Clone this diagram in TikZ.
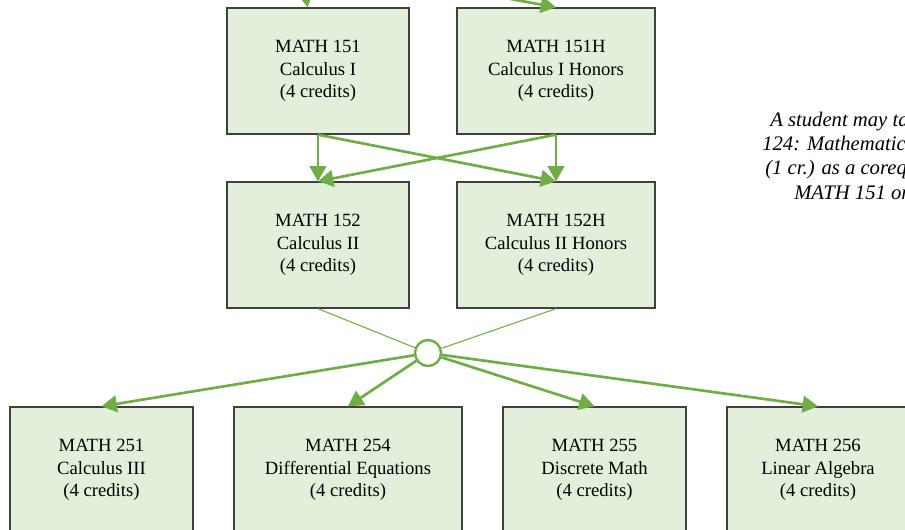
\documentclass[tikz,border=0pt]{standalone}
\usepackage{fontspec}
\setmainfont{Liberation Serif}
\usepackage{xcolor}
\usetikzlibrary{arrows.meta}

\definecolor{lgreen}{HTML}{E2EFDA}
\definecolor{dgreen}{HTML}{70AD47}
\definecolor{edge}{HTML}{404040}

\tikzset{
	course/.style={draw=edge, line width=1pt, fill=lgreen, align=center,
		font=\fontsize{14}{17}\selectfont, minimum height=94.5pt, inner sep=0pt,
		execute at begin node=\rule{0pt}{14pt}},
	prereq/.style={draw=dgreen, line width=2pt, -{Triangle[length=11.5pt,width=12.5pt]}},
	feed/.style={draw=dgreen, line width=0.8pt},
	hubnode/.style={circle, draw=dgreen, line width=1.8pt, fill=white, minimum size=19.5pt, inner sep=0pt},
	notetext/.style={anchor=base west, inner sep=0pt, font=\fontsize{15.5}{18}\selectfont\itshape}
}

\begin{document}
\begin{tikzpicture}[x=0.75pt,y=-0.75pt]
	\useasboundingbox (0,0) rectangle (905,529);
	\clip (0,0) rectangle (905,529);

	% first year
	\node[course, minimum width=136.5pt] (m151) at (318,71) {MATH 151\\Calculus I\\(4 credits)};
	\node[course, minimum width=148.5pt] (m151h) at (556,71) {MATH 151H\\Calculus I Honors\\(4 credits)};
	\node[course, minimum width=136.5pt] (m152) at (318,245) {MATH 152\\Calculus II\\(4 credits)};
	\node[course, minimum width=148.5pt] (m152h) at (556,245) {MATH 152H\\Calculus II Honors\\(4 credits)};

	% second year
	\node[course, minimum width=137.25pt] (m251) at (101.5,470) {MATH 251\\Calculus III\\(4 credits)};
	\node[course, minimum width=171pt] (m254) at (348,470) {MATH 254\\Differential Equations\\(4 credits)};
	\node[course, minimum width=137.25pt] (m255) at (594.5,470) {MATH 255\\Discrete Math\\(4 credits)};
	\node[course, minimum width=136.5pt] (m256) at (818,470) {MATH 256\\Linear Algebra\\(4 credits)};

	\node[hubnode] (hub) at (428,353) {};

	% side note
	\node[notetext] (note1) at (770,126) {A student may take};
	\node[notetext] (note2) at (762,150) {124: Mathematics};
	\node[notetext] (note3) at (765,174) {(1 cr.) as a coreq};
	\node[notetext] (note4) at (794,199) {MATH 151 or};

	\coordinate (prev) at (300,-40);
	\draw[prereq] (prev) -- (m151);
	\draw[prereq] (prev) -- (m151h.north);

	\draw[prereq] (m151.south) -- (m152.north);
	\draw[prereq] (m151.south) -- (m152h.north);
	\draw[prereq] (m151h.south) -- (m152.north);
	\draw[prereq] (m151h.south) -- (m152h.north);

	\draw[feed] (m152.south) -- (hub);
	\draw[feed] (m152h.south) -- (hub);

	\draw[prereq] (hub) -- (m251.north);
	\draw[prereq] (hub) -- (m254.north);
	\draw[prereq] (hub) -- (m255.north);
	\draw[prereq] (hub) -- (m256.north);
\end{tikzpicture}
\end{document}
